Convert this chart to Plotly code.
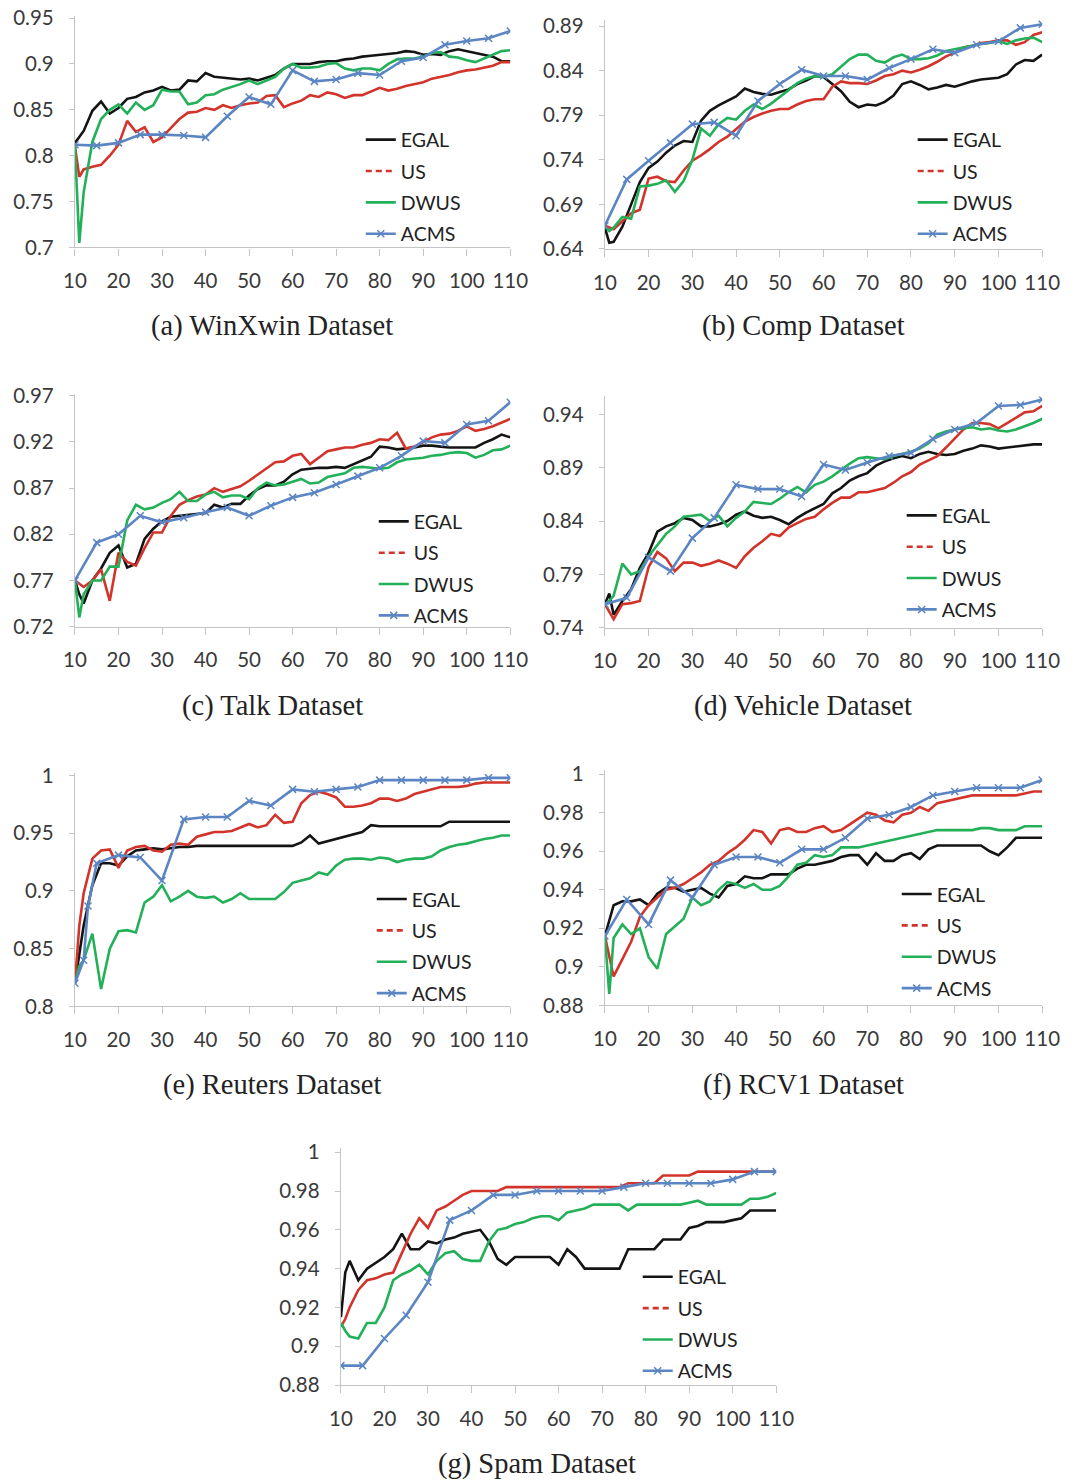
import plotly.graph_objects as go

# Page set-up.  Positions below are measured on the reference picture; the
# rendered page shows an 8px body margin and a slight capture scale, which
# px_x / px_y compensate for.
PAGE_MARGIN = 8
SX, SY = 0.976, 0.986
FW, FH = 1080, 1490

# ---------------- data ----------------
X_GRID = [10, 11] + list(range(12, 111, 2))
ACMS_X = list(range(10, 111, 5))
REUTERS_ACMS_X = [10, 12, 13] + list(range(15, 111, 5))
X_TICKS = list(range(10, 111, 10))

# (a) WinXwin
WINXWIN_EGAL = [0.814, 0.820, 0.827, 0.849, 0.859, 0.846, 0.852, 0.862, 0.864, 0.869, 0.871, 0.875,
                0.871, 0.872, 0.882, 0.881, 0.890, 0.886, 0.885, 0.884, 0.883, 0.884,
                0.882, 0.885, 0.888, 0.895, 0.900, 0.900, 0.900, 0.902, 0.903, 0.903,
                0.905, 0.906, 0.908, 0.909, 0.910, 0.911, 0.912, 0.914, 0.913, 0.910,
                0.911, 0.910, 0.914, 0.916, 0.914, 0.912, 0.910, 0.908, 0.903, 0.903]
WINXWIN_US = [0.810, 0.777, 0.785, 0.788, 0.790, 0.800, 0.812, 0.838, 0.826, 0.831, 0.815, 0.820,
              0.830, 0.840, 0.847, 0.848, 0.852, 0.850, 0.855, 0.852, 0.855, 0.857,
              0.858, 0.865, 0.866, 0.853, 0.857, 0.860, 0.866, 0.864, 0.869, 0.867,
              0.863, 0.866, 0.866, 0.870, 0.874, 0.871, 0.873, 0.876, 0.878, 0.880,
              0.884, 0.886, 0.888, 0.891, 0.893, 0.894, 0.896, 0.898, 0.902, 0.902]
WINXWIN_DWUS = [0.810, 0.705, 0.760, 0.815, 0.840, 0.850, 0.856, 0.846, 0.858, 0.850, 0.855, 0.872,
                0.870, 0.870, 0.856, 0.858, 0.866, 0.867, 0.872, 0.875, 0.878, 0.882,
                0.878, 0.882, 0.886, 0.895, 0.900, 0.896, 0.896, 0.897, 0.900, 0.901,
                0.895, 0.893, 0.895, 0.895, 0.893, 0.900, 0.905, 0.906, 0.906, 0.908,
                0.912, 0.913, 0.908, 0.907, 0.904, 0.902, 0.906, 0.910, 0.914, 0.915]
WINXWIN_ACMS = [0.812, 0.811, 0.814, 0.823, 0.823, 0.822, 0.820, 0.843, 0.864, 0.856, 0.893,
                0.881, 0.883, 0.890, 0.888, 0.903, 0.907, 0.921, 0.925, 0.928, 0.936]
WINXWIN_YTICKS = [0.7, 0.75, 0.8, 0.85, 0.9, 0.95]

# (b) Comp
COMP_EGAL = [0.664, 0.647, 0.648, 0.665, 0.690, 0.715, 0.731, 0.738, 0.748, 0.756, 0.761, 0.760,
             0.784, 0.795, 0.801, 0.806, 0.811, 0.820, 0.816, 0.814, 0.813, 0.816,
             0.819, 0.825, 0.829, 0.834, 0.833, 0.825, 0.817, 0.805, 0.799, 0.802,
             0.801, 0.805, 0.812, 0.825, 0.828, 0.824, 0.819, 0.821, 0.824, 0.822,
             0.825, 0.828, 0.830, 0.831, 0.832, 0.836, 0.847, 0.852, 0.851, 0.858]
COMP_US = [0.666, 0.664, 0.662, 0.671, 0.680, 0.684, 0.719, 0.721, 0.716, 0.715, 0.728, 0.739,
           0.745, 0.752, 0.760, 0.766, 0.774, 0.783, 0.788, 0.792, 0.795, 0.797,
           0.797, 0.802, 0.806, 0.808, 0.808, 0.822, 0.828, 0.826, 0.826, 0.825,
           0.829, 0.834, 0.836, 0.840, 0.838, 0.841, 0.845, 0.850, 0.856, 0.860,
           0.866, 0.868, 0.871, 0.872, 0.874, 0.874, 0.869, 0.872, 0.880, 0.883]
COMP_DWUS = [0.665, 0.660, 0.664, 0.676, 0.674, 0.710, 0.711, 0.713, 0.717, 0.704, 0.716, 0.740,
             0.775, 0.767, 0.780, 0.787, 0.785, 0.795, 0.802, 0.797, 0.803, 0.810,
             0.818, 0.826, 0.831, 0.834, 0.833, 0.836, 0.845, 0.853, 0.858, 0.858,
             0.851, 0.849, 0.855, 0.858, 0.853, 0.853, 0.854, 0.857, 0.862, 0.864,
             0.866, 0.868, 0.870, 0.871, 0.873, 0.870, 0.874, 0.876, 0.877, 0.872]
COMP_ACMS = [0.666, 0.718, 0.739, 0.759, 0.780, 0.782, 0.767, 0.806, 0.825, 0.841, 0.834,
             0.834, 0.830, 0.843, 0.853, 0.864, 0.860, 0.869, 0.873, 0.888, 0.892]
COMP_YTICKS = [0.64, 0.69, 0.74, 0.79, 0.84, 0.89]

# (c) Talk
TALK_EGAL = [0.770, 0.755, 0.745, 0.770, 0.783, 0.800, 0.808, 0.784, 0.788, 0.815, 0.826, 0.834,
             0.839, 0.840, 0.841, 0.842, 0.843, 0.852, 0.849, 0.853, 0.853, 0.862,
             0.869, 0.873, 0.873, 0.877, 0.885, 0.890, 0.891, 0.892, 0.892, 0.893,
             0.892, 0.896, 0.900, 0.904, 0.915, 0.914, 0.912, 0.913, 0.914, 0.916,
             0.916, 0.915, 0.914, 0.914, 0.914, 0.914, 0.919, 0.923, 0.928, 0.925]
TALK_US = [0.770, 0.766, 0.763, 0.770, 0.782, 0.748, 0.800, 0.790, 0.786, 0.805, 0.822, 0.822,
           0.840, 0.852, 0.857, 0.861, 0.863, 0.870, 0.866, 0.869, 0.872, 0.878,
           0.885, 0.892, 0.898, 0.899, 0.905, 0.907, 0.896, 0.903, 0.910, 0.912,
           0.914, 0.914, 0.917, 0.919, 0.923, 0.922, 0.930, 0.913, 0.915, 0.920,
           0.925, 0.928, 0.929, 0.932, 0.937, 0.932, 0.934, 0.937, 0.941, 0.945]
TALK_DWUS = [0.770, 0.730, 0.755, 0.770, 0.770, 0.785, 0.785, 0.835, 0.852, 0.847, 0.849, 0.854,
             0.858, 0.866, 0.856, 0.856, 0.863, 0.866, 0.860, 0.862, 0.862, 0.858,
             0.870, 0.876, 0.873, 0.874, 0.877, 0.880, 0.875, 0.876, 0.882, 0.884,
             0.886, 0.892, 0.893, 0.892, 0.891, 0.892, 0.898, 0.901, 0.902, 0.903,
             0.905, 0.906, 0.908, 0.909, 0.908, 0.903, 0.906, 0.911, 0.912, 0.916]
TALK_ACMS = [0.770, 0.811, 0.820, 0.840, 0.833, 0.838, 0.844, 0.849, 0.840, 0.851, 0.860,
             0.865, 0.874, 0.883, 0.892, 0.905, 0.921, 0.919, 0.939, 0.943, 0.963]
TALK_YTICKS = [0.72, 0.77, 0.82, 0.87, 0.92, 0.97]

# (d) Vehicle
VEHICLE_EGAL = [0.762, 0.772, 0.752, 0.765, 0.776, 0.796, 0.810, 0.830, 0.835, 0.838, 0.843, 0.841,
                0.835, 0.835, 0.837, 0.840, 0.846, 0.849, 0.845, 0.843, 0.844, 0.841,
                0.837, 0.843, 0.848, 0.852, 0.856, 0.866, 0.871, 0.878, 0.882, 0.885,
                0.892, 0.896, 0.899, 0.901, 0.899, 0.903, 0.905, 0.903, 0.902, 0.903,
                0.906, 0.908, 0.911, 0.910, 0.908, 0.909, 0.910, 0.911, 0.912, 0.912]
VEHICLE_US = [0.762, 0.755, 0.748, 0.762, 0.763, 0.765, 0.797, 0.811, 0.805, 0.793, 0.801, 0.801,
              0.798, 0.800, 0.803, 0.800, 0.796, 0.807, 0.815, 0.821, 0.828, 0.826,
              0.834, 0.838, 0.842, 0.844, 0.851, 0.857, 0.862, 0.862, 0.867, 0.867,
              0.869, 0.871, 0.876, 0.882, 0.886, 0.893, 0.897, 0.901, 0.909, 0.918,
              0.926, 0.932, 0.932, 0.931, 0.927, 0.932, 0.937, 0.942, 0.943, 0.948]
VEHICLE_DWUS = [0.762, 0.765, 0.770, 0.800, 0.790, 0.793, 0.807, 0.818, 0.828, 0.835, 0.844, 0.845,
                0.846, 0.840, 0.845, 0.835, 0.843, 0.849, 0.858, 0.857, 0.856, 0.861,
                0.867, 0.872, 0.867, 0.874, 0.877, 0.882, 0.888, 0.894, 0.899, 0.900,
                0.899, 0.898, 0.901, 0.903, 0.905, 0.908, 0.913, 0.921, 0.924, 0.926,
                0.927, 0.928, 0.926, 0.927, 0.925, 0.924, 0.926, 0.929, 0.932, 0.936]
VEHICLE_ACMS = [0.762, 0.768, 0.806, 0.793, 0.824, 0.843, 0.874, 0.870, 0.870, 0.863, 0.893,
                0.888, 0.895, 0.901, 0.904, 0.917, 0.926, 0.932, 0.948, 0.949, 0.954]
VEHICLE_YTICKS = [0.74, 0.79, 0.84, 0.89, 0.94]

# (e) Reuters
REUTERS_EGAL = [0.820, 0.846, 0.870, 0.905, 0.924, 0.924, 0.922, 0.930, 0.935, 0.936, 0.937, 0.936,
                0.937, 0.938, 0.938, 0.939, 0.939, 0.939, 0.939, 0.939, 0.939, 0.939,
                0.939, 0.939, 0.939, 0.939, 0.939, 0.942, 0.948, 0.941, 0.943, 0.945,
                0.947, 0.949, 0.951, 0.957, 0.956, 0.956, 0.956, 0.956, 0.956, 0.956,
                0.956, 0.956, 0.960, 0.960, 0.960, 0.960, 0.960, 0.960, 0.960, 0.960]
REUTERS_US = [0.820, 0.870, 0.898, 0.928, 0.935, 0.936, 0.920, 0.935, 0.938, 0.939, 0.935, 0.934,
              0.940, 0.941, 0.940, 0.947, 0.949, 0.951, 0.951, 0.952, 0.955, 0.958,
              0.955, 0.957, 0.966, 0.959, 0.960, 0.976, 0.983, 0.986, 0.984, 0.981,
              0.973, 0.973, 0.974, 0.976, 0.980, 0.980, 0.978, 0.980, 0.984, 0.986,
              0.988, 0.990, 0.990, 0.990, 0.991, 0.993, 0.994, 0.994, 0.994, 0.994]
REUTERS_DWUS = [0.820, 0.835, 0.840, 0.863, 0.815, 0.850, 0.865, 0.866, 0.864, 0.890, 0.895, 0.905,
                0.891, 0.895, 0.900, 0.895, 0.894, 0.895, 0.890, 0.893, 0.898, 0.893,
                0.893, 0.893, 0.893, 0.899, 0.907, 0.909, 0.911, 0.916, 0.914, 0.922,
                0.927, 0.928, 0.928, 0.927, 0.929, 0.928, 0.925, 0.927, 0.928, 0.928,
                0.930, 0.935, 0.938, 0.940, 0.941, 0.943, 0.945, 0.946, 0.948, 0.948]
REUTERS_ACMS = [0.820, 0.840, 0.887, 0.924, 0.931, 0.929, 0.909, 0.962, 0.964, 0.964, 0.978,
                0.974, 0.988, 0.986, 0.988, 0.990, 0.996, 0.996, 0.996, 0.996, 0.996, 0.998, 0.998]
REUTERS_YTICKS = [0.8, 0.85, 0.9, 0.95, 1.0]

# (f) RCV1
RCV1_EGAL = [0.916, 0.924, 0.932, 0.934, 0.934, 0.935, 0.932, 0.938, 0.941, 0.941, 0.939, 0.940,
             0.941, 0.938, 0.936, 0.942, 0.943, 0.947, 0.946, 0.946, 0.948, 0.948,
             0.948, 0.951, 0.953, 0.953, 0.954, 0.955, 0.957, 0.958, 0.958, 0.953,
             0.959, 0.955, 0.955, 0.958, 0.959, 0.956, 0.961, 0.963, 0.963, 0.963,
             0.963, 0.963, 0.963, 0.960, 0.958, 0.962, 0.967, 0.967, 0.967, 0.967]
RCV1_US = [0.916, 0.905, 0.895, 0.904, 0.913, 0.926, 0.932, 0.936, 0.940, 0.941, 0.943, 0.946,
           0.949, 0.953, 0.955, 0.959, 0.962, 0.966, 0.971, 0.970, 0.964, 0.971,
           0.972, 0.970, 0.970, 0.972, 0.973, 0.970, 0.971, 0.974, 0.977, 0.980,
           0.979, 0.976, 0.975, 0.979, 0.980, 0.983, 0.981, 0.985, 0.986, 0.987,
           0.988, 0.989, 0.989, 0.989, 0.989, 0.989, 0.989, 0.990, 0.991, 0.991]
RCV1_DWUS = [0.916, 0.886, 0.915, 0.922, 0.917, 0.920, 0.905, 0.899, 0.917, 0.921, 0.925, 0.936,
             0.932, 0.934, 0.940, 0.944, 0.943, 0.941, 0.943, 0.940, 0.940, 0.942,
             0.947, 0.953, 0.954, 0.958, 0.957, 0.958, 0.962, 0.962, 0.962, 0.963,
             0.964, 0.965, 0.966, 0.967, 0.968, 0.969, 0.970, 0.971, 0.971, 0.971,
             0.971, 0.971, 0.972, 0.972, 0.971, 0.971, 0.971, 0.973, 0.973, 0.973]
RCV1_ACMS = [0.916, 0.935, 0.922, 0.945, 0.936, 0.953, 0.957, 0.957, 0.954, 0.961, 0.961,
             0.967, 0.977, 0.979, 0.983, 0.989, 0.991, 0.993, 0.993, 0.993, 0.997]
RCV1_YTICKS = [0.88, 0.9, 0.92, 0.94, 0.96, 0.98, 1.0]

# (g) Spam
SPAM_EGAL = [0.915, 0.938, 0.944, 0.934, 0.940, 0.943, 0.946, 0.950, 0.958, 0.950, 0.950, 0.954,
             0.953, 0.955, 0.956, 0.958, 0.959, 0.960, 0.954, 0.945, 0.942, 0.946,
             0.946, 0.946, 0.946, 0.946, 0.942, 0.950, 0.946, 0.940, 0.940, 0.940,
             0.940, 0.940, 0.950, 0.950, 0.950, 0.950, 0.955, 0.955, 0.955, 0.961,
             0.962, 0.964, 0.964, 0.964, 0.965, 0.966, 0.970, 0.970, 0.970, 0.970]
SPAM_US = [0.910, 0.914, 0.920, 0.929, 0.934, 0.935, 0.937, 0.938, 0.948, 0.958, 0.966, 0.961,
           0.970, 0.972, 0.975, 0.978, 0.980, 0.980, 0.980, 0.980, 0.982, 0.982,
           0.982, 0.982, 0.982, 0.982, 0.982, 0.982, 0.982, 0.982, 0.982, 0.982,
           0.982, 0.982, 0.984, 0.984, 0.984, 0.984, 0.988, 0.988, 0.988, 0.988,
           0.990, 0.990, 0.990, 0.990, 0.990, 0.990, 0.990, 0.990, 0.990, 0.990]
SPAM_DWUS = [0.912, 0.908, 0.905, 0.904, 0.912, 0.912, 0.920, 0.934, 0.937, 0.939, 0.942, 0.937,
             0.944, 0.948, 0.949, 0.945, 0.944, 0.944, 0.954, 0.960, 0.961, 0.963,
             0.964, 0.966, 0.967, 0.967, 0.965, 0.969, 0.970, 0.971, 0.973, 0.973,
             0.973, 0.973, 0.970, 0.973, 0.973, 0.973, 0.973, 0.973, 0.973, 0.974,
             0.975, 0.973, 0.973, 0.973, 0.973, 0.973, 0.976, 0.976, 0.977, 0.979]
SPAM_ACMS = [0.890, 0.890, 0.904, 0.916, 0.933, 0.965, 0.970, 0.978, 0.978, 0.980, 0.980,
             0.980, 0.980, 0.982, 0.984, 0.984, 0.984, 0.984, 0.986, 0.990, 0.990]
SPAM_YTICKS = [0.88, 0.9, 0.92, 0.94, 0.96, 0.98, 1.0]

SERIES_NAMES = ["EGAL", "US", "DWUS", "ACMS"]
CAPTIONS = ["(a) WinXwin Dataset", "(b) Comp Dataset", "(c) Talk Dataset",
            "(d) Vehicle Dataset", "(e) Reuters Dataset", "(f) RCV1 Dataset",
            "(g) Spam Dataset"]

PANELS = [
    (WINXWIN_EGAL, WINXWIN_US, WINXWIN_DWUS, ACMS_X, WINXWIN_ACMS, WINXWIN_YTICKS),
    (COMP_EGAL, COMP_US, COMP_DWUS, ACMS_X, COMP_ACMS, COMP_YTICKS),
    (TALK_EGAL, TALK_US, TALK_DWUS, ACMS_X, TALK_ACMS, TALK_YTICKS),
    (VEHICLE_EGAL, VEHICLE_US, VEHICLE_DWUS, ACMS_X, VEHICLE_ACMS, VEHICLE_YTICKS),
    (REUTERS_EGAL, REUTERS_US, REUTERS_DWUS, REUTERS_ACMS_X, REUTERS_ACMS, REUTERS_YTICKS),
    (RCV1_EGAL, RCV1_US, RCV1_DWUS, ACMS_X, RCV1_ACMS, RCV1_YTICKS),
    (SPAM_EGAL, SPAM_US, SPAM_DWUS, ACMS_X, SPAM_ACMS, SPAM_YTICKS),
]

# ---------------- layout geometry (reference pixels) ----------------
# x-left, x-right, pixel of ymin, pixel of top tick, top of axis (value)
GEOM = [
    (71, 508, 244.5, 15.0, 0.952),
    (603, 1042, 246.0, 23.0, 0.897),
    (71, 508, 624.0, 393.0, 0.972),
    (603, 1042, 625.0, 411.7, 0.957),
    (71, 508, 1004.0, 773.0, 1.002),
    (603, 1042, 1003.0, 771.7, 1.002),
    (338, 775, 1383.0, 1150.0, 1.002),
]
LEGEND_POS = [(397, 184), (951, 184), (410, 566), (940, 560),
              (408, 944), (935, 939), (675, 1322)]
CAPTION_POS = [(269, 323), (802, 323), (269, 703), (802, 703),
               (269, 1083), (802, 1083), (535, 1462)]


def px_x(p):
    return (p / SX - PAGE_MARGIN) / FW


def px_y(p):
    return 1 - (p / SY - PAGE_MARGIN) / FH


COLORS = {"EGAL": "#141414", "US": "#d2342b", "DWUS": "#22b058", "ACMS": "#5b85c3"}
AXIS_COLOR = "#c4c4c4"
TICK_FONT = dict(family="Lato", size=20.5, color="#3a3a3a")
LW = 2.6

fig = go.Figure()
layout = dict(width=FW, height=FH, margin=dict(l=0, r=0, t=0, b=0),
              paper_bgcolor="white", plot_bgcolor="white", showlegend=True)
annotations = []

for i, (egal, us, dwus, acms_x, acms, yticks) in enumerate(PANELS):
    for arr in (egal, us, dwus):
        if len(arr) != len(X_GRID):
            raise ValueError(f"panel {i}: length {len(arr)}")
    if len(acms) != len(acms_x):
        raise ValueError(f"panel {i}: acms length")
    n = i + 1
    xa = "x" if n == 1 else f"x{n}"
    ya = "y" if n == 1 else f"y{n}"
    lg = "legend" if n == 1 else f"legend{n}"
    x0, x1, pb, pt, ymax = GEOM[i]
    ymin, ytop = yticks[0], yticks[-1]
    ppu = (pb - pt) / (ytop - ymin)
    ptop = pb - (ymax - ymin) * ppu

    for name, vals in (("EGAL", egal), ("US", us), ("DWUS", dwus)):
        fig.add_trace(go.Scatter(x=X_GRID, y=vals, mode="lines", name=name,
                                 line=dict(color=COLORS[name], width=LW),
                                 xaxis=xa, yaxis=ya, showlegend=False))
    fig.add_trace(go.Scatter(x=acms_x, y=acms, mode="lines+markers", name="ACMS",
                             line=dict(color=COLORS["ACMS"], width=LW),
                             marker=dict(symbol="x-thin", size=7,
                                         line=dict(color=COLORS["ACMS"], width=1.5)),
                             xaxis=xa, yaxis=ya, showlegend=False))
    # legend entries
    for name in SERIES_NAMES:
        kw = dict(color=COLORS[name], width=LW)
        if name == "US":
            kw["dash"] = "6px,4px"
        tr = dict(x=[None], y=[None], name=name, legend=lg, legendgroup=f"{lg}-{name}",
                  line=kw, xaxis=xa, yaxis=ya, showlegend=True,
                  mode="lines+markers" if name == "ACMS" else "lines")
        if name == "ACMS":
            tr["marker"] = dict(symbol="x-thin", size=7,
                                line=dict(color=COLORS["ACMS"], width=1.5))
        fig.add_trace(go.Scatter(**tr))

    tx, cy = LEGEND_POS[i]
    layout[lg] = dict(x=px_x(tx) - 40 / FW, y=px_y(cy), xanchor="left", yanchor="middle",
                      bgcolor="rgba(0,0,0,0)", borderwidth=0, tracegroupgap=3,
                      font=dict(family="Lato", size=19.5, color="#222222"))

    layout["xaxis" if n == 1 else f"xaxis{n}"] = dict(
        domain=[px_x(x0), px_x(x1)], anchor=ya, range=[10, 110],
        tickvals=X_TICKS, ticktext=[str(v) for v in X_TICKS],
        showline=True, linecolor=AXIS_COLOR, linewidth=1.3,
        ticks="outside", ticklen=7, tickcolor=AXIS_COLOR, tickwidth=1.3,
        showgrid=False, zeroline=False, tickfont=TICK_FONT, ticklabelstandoff=8)
    layout["yaxis" if n == 1 else f"yaxis{n}"] = dict(
        domain=[px_y(pb), px_y(ptop)], anchor=xa, range=[ymin, ymax],
        tickvals=yticks, ticktext=[f"{v:g}" for v in yticks],
        showline=True, linecolor=AXIS_COLOR, linewidth=1.3,
        ticks="outside", ticklen=5, tickcolor=AXIS_COLOR, tickwidth=1.3,
        showgrid=False, zeroline=False, tickfont=TICK_FONT, ticklabelstandoff=11)

    cx, ccy = CAPTION_POS[i]
    annotations.append(dict(text=CAPTIONS[i], x=px_x(cx), y=px_y(ccy), xref="paper",
                            yref="paper", showarrow=False, xanchor="center",
                            yanchor="middle",
                            font=dict(family="Liberation Serif", size=28.5, color="#222222")))

layout["annotations"] = annotations
fig.update_layout(**layout)
fig.write_html("out.html")
